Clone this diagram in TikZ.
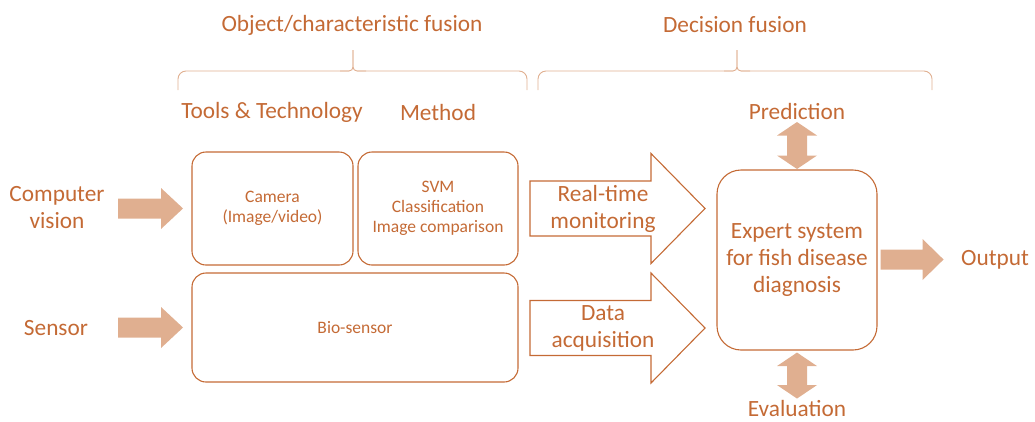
\documentclass[tikz,border=0pt]{standalone}
\usepackage{fontspec}
\setmainfont{Carlito}
\usetikzlibrary{calc}
\definecolor{tc}{HTML}{C46A35}
\definecolor{af}{HTML}{E0AF90}
\newcommand\fatR[3]{% start, shaft length, head length (pointing right)
  \fill[af] (#1) ++(0,-10) -- ++(#2,0) -- ++(0,-10.5) -- ++(#3,20.5) -- ++(-#3,20.5) -- ++(0,-10.5) -- ++(-#2,0) -- cycle;}
\newcommand\fatV[3]{% top tip, total length, head length (double vertical)
  \fill[af] (#1) -- ++(20,#3) -- ++(-10,0) -- ++(0,#2-2*#3) -- ++(10,0) -- ++(-20,#3) -- ++(-20,-#3) -- ++(10,0) -- ++(0,-#2+2*#3) -- ++(-10,0) -- cycle;}
\newcommand\openR[1]{% start at shaft left centre
  \draw[tc, line width=1.1pt, line join=miter] (#1) ++(0,-27.5) -- ++(121,0) -- ++(0,-27.5) -- ++(54,55) -- ++(-54,55) -- ++(0,-27.5) -- ++(-121,0) -- cycle;}
\begin{document}
\begin{tikzpicture}[x=1pt,y=-1pt,
  every node/.style={text=tc, font=\fontsize{23.3}{27}\selectfont, align=center, inner sep=0pt},
  box/.style={draw=tc, line width=1.1pt, rounded corners=14pt, font=\fontsize{17.5}{20}\selectfont},
  brace/.style={draw=af, line width=0.9pt}]
\path[use as bounding box] (0,0) rectangle (1035,421);

% headers
\node (objfus) at (352,25) {Object/characteristic fusion};
\node (decfus) at (735,25) {Decision fusion};
\draw[brace, rounded corners=8pt] (178,90) -- (178,71) -- (349,71);
\draw[brace, rounded corners=4pt] (340,71) -- (353,71) -- (353,50);
\draw[brace, rounded corners=4pt] (353,50) -- (353,71) -- (366,71);
\draw[brace, rounded corners=8pt] (357,71) -- (527,71) -- (527,90);
\draw[brace, rounded corners=8pt] (538,90) -- (538,71) -- (733,71);
\draw[brace, rounded corners=4pt] (724,71) -- (737,71) -- (737,50);
\draw[brace, rounded corners=4pt] (737,50) -- (737,71) -- (750,71);
\draw[brace, rounded corners=8pt] (741,71) -- (932,71) -- (932,90);

\node (tools) at (272,112) {Tools \& Technology};
\node (method) at (438,112) {Method};

% inputs
\node (cv) at (57,208) {Computer\\vision};
\node (sensor) at (56,328) {Sensor};

% boxes
\node[box, minimum width=161pt, minimum height=113pt] (cam) at (272.5,208.5) {Camera\\(Image/video)};
\node[box, minimum width=160pt, minimum height=113pt] (svm) at (438,208.5) {SVM\\Classification\\Image comparison};
\node[box, minimum width=326pt, minimum height=109pt] (bio) at (355,327.5) {Bio-sensor};
\node[draw=tc, line width=1.1pt, rounded corners=24pt, minimum width=160pt, minimum height=180pt] (exp) at (797,260) {Expert system\\for fish disease\\diagnosis};

\node (pred) at (797,111) {Prediction};
\node (eval) at (797,408) {Evaluation};
\node (out) at (995,260) {Output};

% fat arrows
\coordinate (cvA) at (118,208.5);
\fatR{cvA}{43}{22}
\coordinate (snA) at (118,327.5);
\fatR{snA}{43}{22}
\coordinate (outA) at ($(exp.east)+(3,-0.5)$);
\fatR{outA}{42}{21}
\coordinate (predA) at (797,122);
\fatV{predA}{47}{13.5}
\coordinate (evalA) at ($(exp.south)+(0,2)$);
\fatV{evalA}{46}{13.5}

% open arrows
\coordinate (rtA) at (530,208.5);
\openR{rtA}
\node (rt) at (603,209) {Real-time\\monitoring};
\coordinate (daA) at (530,328);
\openR{daA}
\node (da) at (603,328.5) {Data\\acquisition};
\end{tikzpicture}
\end{document}
